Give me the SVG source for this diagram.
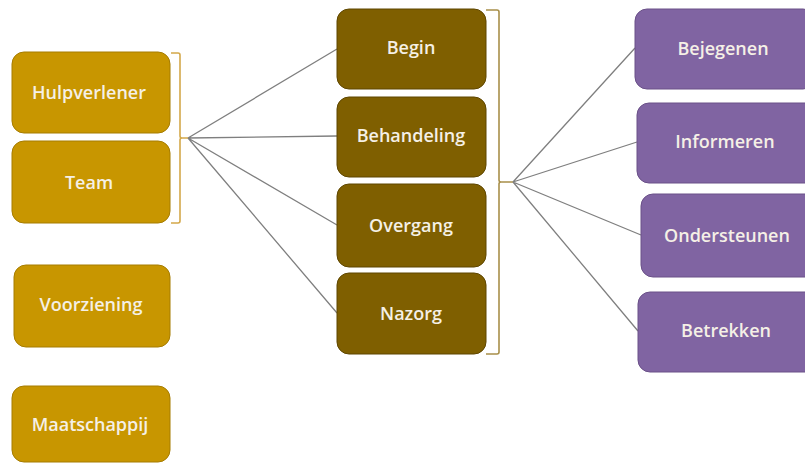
<svg xmlns="http://www.w3.org/2000/svg" width="805" height="463" viewBox="0 0 805 463">
<style>
.gold{fill:#C89600;stroke:#A67C00;stroke-width:1}
.brown{fill:#7F5F00;stroke:#5E4600;stroke-width:1}
.purple{fill:#8064A2;stroke:#6A5088;stroke-width:1}
.t{font-family:"Open Sans","Noto Sans",sans-serif;font-size:18px;font-weight:600;fill:#F5F0E6;text-anchor:middle;dominant-baseline:central}
.ln{stroke:#7F7F7F;stroke-width:1.3;fill:none}
.br1{stroke:#D4A84A;stroke-width:1.6;fill:none}
.br2{stroke:#A88F4A;stroke-width:1.6;fill:none}
</style>
<rect width="805" height="463" fill="#FFFFFF"/>
<g id="connectors">
<path class="br1" d="M171,53 H178 Q180,53 180,55 V136 Q180,138 182,138 H188 M182,138 Q180,138 180,140 V221 Q180,223 178,223 H171"/>
<path class="br2" d="M486,10 H497 Q499,10 499,12 V180 Q499,182 501,182 H513 M501,182 Q499,182 499,184 V352 Q499,354 497,354 H486"/>
<path class="ln" d="M188,138 L337,49 M188,138 L337,136 M188,138 L337,225 M188,138 L337,313"/>
<path class="ln" d="M513,182 L635,48 M513,182 L637,142 M513,182 L641,235 M513,182 L638,331"/>
</g>
<g id="hulpverlener"><rect class="gold" x="12" y="52" width="158" height="81" rx="12"/><text class="t" x="89" y="92">Hulpverlener</text></g>
<g id="team"><rect class="gold" x="12" y="141" width="158" height="82" rx="12"/><text class="t" x="89" y="182">Team</text></g>
<g id="voorziening"><rect class="gold" x="14" y="265" width="156" height="82" rx="12"/><text class="t" x="91" y="304">Voorziening</text></g>
<g id="maatschappij"><rect class="gold" x="12" y="386" width="158" height="76" rx="12"/><text class="t" x="90" y="424">Maatschappij</text></g>
<g id="begin"><rect class="brown" x="337" y="9" width="149" height="80" rx="12"/><text class="t" x="411" y="47">Begin</text></g>
<g id="behandeling"><rect class="brown" x="337" y="97" width="149" height="80" rx="12"/><text class="t" x="411" y="135">Behandeling</text></g>
<g id="overgang"><rect class="brown" x="337" y="184" width="149" height="83" rx="12"/><text class="t" x="411" y="225">Overgang</text></g>
<g id="nazorg"><rect class="brown" x="337" y="273" width="149" height="81" rx="12"/><text class="t" x="411" y="313">Nazorg</text></g>
<g id="bejegenen"><rect class="purple" x="635" y="9" width="180" height="80" rx="12"/><text class="t" x="723" y="48">Bejegenen</text></g>
<g id="informeren"><rect class="purple" x="637" y="103" width="180" height="80" rx="12"/><text class="t" x="725" y="141">Informeren</text></g>
<g id="ondersteunen"><rect class="purple" x="641" y="194" width="180" height="83" rx="12"/><text class="t" x="727" y="235">Ondersteunen</text></g>
<g id="betrekken"><rect class="purple" x="638" y="292" width="180" height="80" rx="12"/><text class="t" x="726" y="330">Betrekken</text></g>
</svg>
